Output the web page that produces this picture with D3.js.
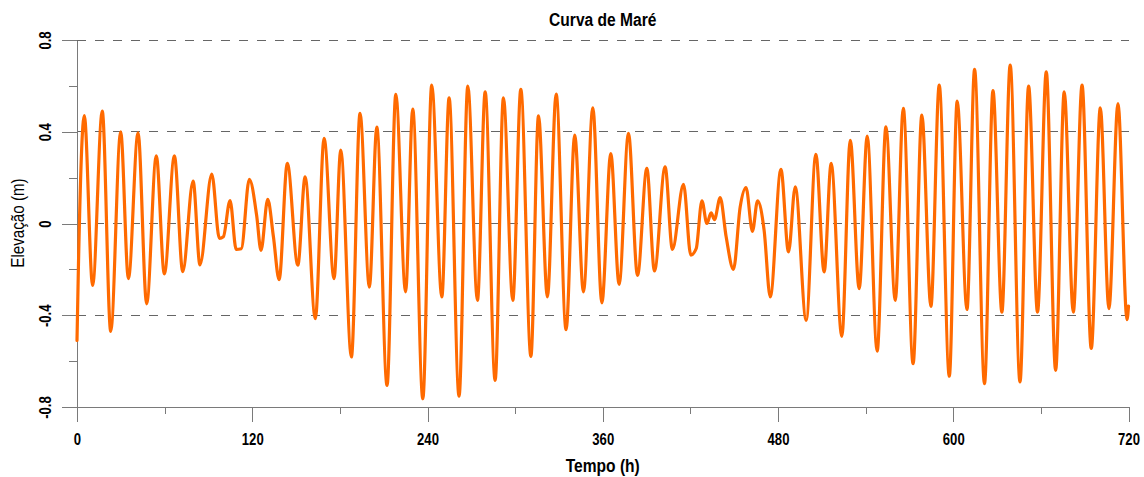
<!DOCTYPE html>
<html><head><meta charset="utf-8">
<script src="https://cdn.jsdelivr.net/npm/d3@7"></script>
<style>body{margin:0;background:#fff} svg{display:block}</style>
</head><body><svg id="c" width="1144" height="477"></svg>
<script>
// ---- data (extrema and shape points) ----
const horas = [0,1.0,5.0,10.7,17.3,23.1,29.9,35.2,41.8,47.7,54.3,59.8,66.7,72.4,79.5,84.2,92.3,97.5,100.2,104.8,
109.0,112.5,118.0,123.0,126.0,130.6,134.5,138.4,144.0,151.2,156.2,163.2,169.2,176.0,180.6,187.9,193.8,200.2,205.3,212.3,
218.3,225.0,229.9,236.8,242.9,249.8,254.8,261.6,267.6,274.2,279.5,286.3,292.0,298.4,303.9,310.8,316.0,322.1,328.1,334.9,
340.8,346.8,353.2,359.4,365.5,371.2,377.6,383.8,390.2,395.4,402.7,407.7,415.3,420.3,424.0,427.9,431.3,434.2,436.5,440.4,
444.5,449.5,454.1,458.1,462.5,466.0,470.5,474.7,482.0,487.2,491.8,499.3,505.9,511.6,516.4,523.7,529.5,535.6,541.1,547.9,
553.9,560.3,565.8,572.5,578.5,584.7,590.4,597.3,602.7,609.4,614.6,621.4,627.2,633.3,639.0,645.7,651.6,657.7,663.7,670.1,
676.0,682.2,688.2,694.5,700.7,706.6,712.8,719.0,720.0];
const elevacao = [-0.51,-0.18,0.47,-0.27,0.49,-0.47,0.40,-0.24,0.395,-0.35,0.295,-0.22,0.295,-0.21,0.185,-0.18,0.215,-0.065,-0.058,0.10,
-0.113,-0.11,0.193,0.036,-0.117,0.105,-0.058,-0.245,0.262,-0.182,0.203,-0.415,0.371,-0.24,0.32,-0.582,0.48,-0.277,0.42,-0.706,
0.563,-0.298,0.499,-0.764,0.603,-0.32,0.548,-0.753,0.599,-0.335,0.574,-0.684,0.548,-0.335,0.585,-0.579,0.469,-0.32,0.564,-0.463,
0.385,-0.298,0.504,-0.346,0.305,-0.265,0.393,-0.226,0.24,-0.207,0.247,-0.113,0.171,-0.138,-0.109,0.099,0.0,0.046,0.017,0.113,
-0.058,-0.2,0.072,0.157,-0.034,0.099,-0.03,-0.32,0.236,-0.124,0.16,-0.422,0.302,-0.211,0.262,-0.492,0.363,-0.284,0.381,-0.556,
0.421,-0.335,0.502,-0.611,0.473,-0.361,0.603,-0.666,0.534,-0.375,0.672,-0.698,0.579,-0.386,0.691,-0.691,0.599,-0.386,0.661,-0.64,
0.574,-0.386,0.603,-0.545,0.504,-0.371,0.523,-0.419,-0.36];
const xTicksMaior = [0,120,240,360,480,600,720];
const xTicksMenor = [60,180,300,420,540,660];
const yTicksMaior = [-0.8,-0.4,0,0.4,0.8];
const yTicksMenor = [-0.6,-0.2,0.2,0.6];
const yTickLabels = ["-0.8","-0.4","0","0.4","0.8"];
const gridValores = [-0.4,0,0.4,0.8];
const titulo = "Curva de Maré", xTitulo = "Tempo (h)", yTitulo = "Elevação (m)";

// ---- font detection (narrow face if available, otherwise compressed sans) ----
const cv = document.createElement("canvas").getContext("2d");
cv.font = "bold 16px monospace"; const wm = cv.measureText("0123456789 Maré").width;
cv.font = "bold 16px 'Liberation Sans Narrow', monospace"; const wn = cv.measureText("0123456789 Maré").width;
const hasNarrow = Math.abs(wm - wn) > 0.5;
const FAM = hasNarrow ? "'Liberation Sans Narrow','Arial Narrow',sans-serif" : "'Liberation Sans',Arial,sans-serif";
const SX = hasNarrow ? 1 : 0.82;

const svg = d3.select("#c");
const x = d3.scaleLinear().domain([0, 720]).range([77, 1128.5]);
const y = d3.scaleLinear().domain([-0.8, 0.8]).range([407, 40]);
const AX = "#7a7a7a";

// grid
svg.append("g").selectAll("line").data(gridValores).join("line")
  .attr("x1", x(0)).attr("x2", x(720))
  .attr("y1", d => y(d)).attr("y2", d => y(d))
  .attr("stroke", "#666").attr("stroke-width", 1).attr("stroke-dasharray", "9,9")
  .attr("shape-rendering", "crispEdges");

// axes
function styleAxis(g) {
  g.selectAll("path, line").attr("stroke", AX).attr("shape-rendering", "crispEdges");
}
const gxMin = svg.append("g").attr("transform", `translate(0,${y(-0.8)})`)
  .call(d3.axisBottom(x).tickValues(xTicksMenor).tickSize(7).tickSizeOuter(0).tickFormat(""));
gxMin.select(".domain").remove(); styleAxis(gxMin);
const gx = svg.append("g").attr("transform", `translate(0,${y(-0.8)})`)
  .call(d3.axisBottom(x).tickValues(xTicksMaior).tickSize(15).tickSizeOuter(0).tickFormat(d3.format("d")));
styleAxis(gx);
gx.selectAll("text").attr("y", null).attr("dy", null)
  .attr("transform", `translate(0,38) scale(${SX},1)`)
  .attr("fill", "#000").attr("font-family", FAM).attr("font-weight", "bold").attr("font-size", 16);

const gyMin = svg.append("g").attr("transform", `translate(${x(0)},0)`)
  .call(d3.axisLeft(y).tickValues(yTicksMenor).tickSize(8).tickSizeOuter(0).tickFormat(""));
gyMin.select(".domain").remove(); styleAxis(gyMin);
const gy = svg.append("g").attr("transform", `translate(${x(0)},0)`)
  .call(d3.axisLeft(y).tickValues(yTicksMaior).tickSize(15).tickSizeOuter(0)
    .tickFormat((d, i) => yTickLabels[i]));
styleAxis(gy);
gy.selectAll("text").attr("x", null).attr("dy", null).attr("text-anchor", "middle")
  .attr("transform", `translate(-26,0) rotate(-90) scale(${SX},1)`)
  .attr("fill", "#000").attr("font-family", FAM).attr("font-weight", "bold").attr("font-size", 16);

// series
const pts = horas.map((h, i) => [h, elevacao[i]]);
svg.append("path").datum(pts)
  .attr("fill", "none").attr("stroke", "#ff6a00").attr("stroke-width", 3.2)
  .attr("stroke-linejoin", "round").attr("stroke-linecap", "round")
  .attr("d", d3.line().x(d => x(d[0])).y(d => y(d[1])).curve(d3.curveMonotoneX));

// titles
function label(txt, tx, ty, rot, size, weight) {
  svg.append("text").text(txt)
    .attr("transform", `translate(${tx},${ty}) rotate(${rot}) scale(${SX},1)`)
    .attr("text-anchor", "middle").attr("font-family", FAM)
    .attr("font-size", size).attr("font-weight", weight).attr("fill", "#000");
}
label(titulo, (x(0) + x(720)) / 2, 26, 0, 19, "bold");
label(xTitulo, (x(0) + x(720)) / 2, 472, 0, 19, "bold");
label(yTitulo, 24, 223, -90, 18.5, "normal");
</script></body></html>
